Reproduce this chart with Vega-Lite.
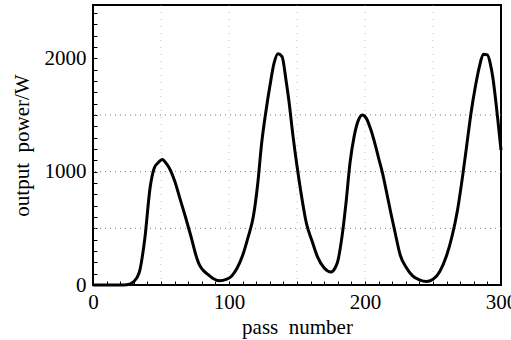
{
  "$schema": "https://vega.github.io/schema/vega-lite/v6.json",
  "width": 408,
  "height": 280,
  "autosize": {"type": "none"},
  "padding": {"left": 93, "top": 5, "right": 10, "bottom": 55},
  "background": "white",
  "config": {
    "view": {"stroke": "black", "strokeWidth": 2},
    "axis": {
      "labelFont": "Liberation Serif",
      "titleFont": "Liberation Serif",
      "labelFontSize": 21,
      "titleFontSize": 21,
      "titleFontWeight": "normal",
      "labelColor": "black",
      "titleColor": "black",
      "tickColor": "black",
      "tickWidth": 1,
      "tickSize": -4,
      "grid": false,
      "domain": false,
      "labelOverlap": false,
      "labelFlush": false
    },
    "axisX": {"labelPadding": 10, "titlePadding": 4},
    "axisY": {"labelPadding": 11, "titlePadding": 12}
  },
  "datasets": {
    "curve": [
      {"pass": 0, "power": 0}, {"pass": 20, "power": 0}, {"pass": 25, "power": 2}, {"pass": 30, "power": 30},
      {"pass": 34, "power": 110}, {"pass": 38, "power": 400}, {"pass": 42, "power": 860}, {"pass": 45, "power": 1030},
      {"pass": 48, "power": 1080}, {"pass": 51, "power": 1108}, {"pass": 54, "power": 1070}, {"pass": 57, "power": 1010},
      {"pass": 60, "power": 920}, {"pass": 64, "power": 760}, {"pass": 68, "power": 600}, {"pass": 72, "power": 430},
      {"pass": 76, "power": 250}, {"pass": 78, "power": 185}, {"pass": 80, "power": 145}, {"pass": 82, "power": 118}, {"pass": 85, "power": 88}, {"pass": 88, "power": 60},
      {"pass": 93, "power": 38}, {"pass": 98, "power": 50}, {"pass": 102, "power": 80}, {"pass": 106, "power": 150},
      {"pass": 110, "power": 260}, {"pass": 114, "power": 420}, {"pass": 118, "power": 610}, {"pass": 121, "power": 880},
      {"pass": 124, "power": 1250}, {"pass": 127, "power": 1520}, {"pass": 130, "power": 1750}, {"pass": 133, "power": 1950},
      {"pass": 136, "power": 2040}, {"pass": 139, "power": 2015}, {"pass": 142, "power": 1800}, {"pass": 144, "power": 1630},
      {"pass": 147, "power": 1320}, {"pass": 150, "power": 1050}, {"pass": 153, "power": 810}, {"pass": 157, "power": 540},
      {"pass": 161, "power": 390}, {"pass": 165, "power": 250}, {"pass": 170, "power": 150}, {"pass": 175, "power": 115},
      {"pass": 178, "power": 150}, {"pass": 180, "power": 210}, {"pass": 183, "power": 420}, {"pass": 186, "power": 720},
      {"pass": 189, "power": 1080}, {"pass": 192, "power": 1310}, {"pass": 195, "power": 1450}, {"pass": 198, "power": 1500},
      {"pass": 201, "power": 1470}, {"pass": 204, "power": 1380}, {"pass": 207, "power": 1260}, {"pass": 210, "power": 1120},
      {"pass": 213, "power": 980}, {"pass": 216, "power": 810}, {"pass": 219, "power": 635}, {"pass": 222, "power": 470},
      {"pass": 226, "power": 260}, {"pass": 230, "power": 160}, {"pass": 235, "power": 80}, {"pass": 240, "power": 45},
      {"pass": 245, "power": 30}, {"pass": 250, "power": 50}, {"pass": 255, "power": 120}, {"pass": 260, "power": 260},
      {"pass": 264, "power": 430}, {"pass": 268, "power": 660}, {"pass": 272, "power": 980}, {"pass": 275, "power": 1250},
      {"pass": 278, "power": 1520}, {"pass": 281, "power": 1740}, {"pass": 284, "power": 1920}, {"pass": 287, "power": 2035},
      {"pass": 290, "power": 2030}, {"pass": 292, "power": 1960}, {"pass": 294, "power": 1830}, {"pass": 296, "power": 1640},
      {"pass": 298, "power": 1420}, {"pass": 300, "power": 1190}
    ],
    "hgrid": [{"power": 500}, {"power": 1000}, {"power": 1500}],
    "vgrid": [{"pass": 50}, {"pass": 100}, {"pass": 150}, {"pass": 200}, {"pass": 250}]
  },
  "layer": [
    {
      "data": {"name": "hgrid"},
      "mark": {"type": "rule", "color": "#777777", "strokeDash": [1, 4], "strokeWidth": 1},
      "encoding": {
        "y": {
          "field": "power", "type": "quantitative",
          "scale": {"domain": [0, 2470], "nice": false},
          "axis": {
            "title": "output\u00a0\u00a0power/W",
            "format": "d",
            "values": [0,100,200,300,400,500,600,700,800,900,1000,1100,1200,1300,1400,1500,1600,1700,1800,1900,2000,2100,2200,2300,2400],
            "labelExpr": "datum.value % 1000 == 0 ? datum.label : ''"
          }
        }
      }
    },
    {
      "data": {"name": "vgrid"},
      "mark": {"type": "rule", "color": "#999999", "strokeDash": [1, 6], "strokeWidth": 1, "opacity": 0.6},
      "encoding": {
        "x": {
          "field": "pass", "type": "quantitative",
          "scale": {"domain": [0, 300], "nice": false},
          "axis": {
            "title": "pass\u00a0\u00a0number",
            "values": [0,10,20,30,40,50,60,70,80,90,100,110,120,130,140,150,160,170,180,190,200,210,220,230,240,250,260,270,280,290,300],
            "labelExpr": "datum.value % 100 == 0 ? datum.label : ''"
          }
        }
      }
    },
    {
      "data": {"name": "curve"},
      "mark": {"type": "line", "color": "black", "strokeWidth": 3, "interpolate": "monotone"},
      "encoding": {
        "x": {
          "field": "pass", "type": "quantitative",
          "scale": {"domain": [0, 300], "nice": false},
          "axis": {
            "title": "pass\u00a0\u00a0number",
            "values": [0,10,20,30,40,50,60,70,80,90,100,110,120,130,140,150,160,170,180,190,200,210,220,230,240,250,260,270,280,290,300],
            "labelExpr": "datum.value % 100 == 0 ? datum.label : ''"
          }
        },
        "y": {
          "field": "power", "type": "quantitative",
          "scale": {"domain": [0, 2470], "nice": false},
          "axis": {
            "title": "output\u00a0\u00a0power/W",
            "format": "d",
            "values": [0,100,200,300,400,500,600,700,800,900,1000,1100,1200,1300,1400,1500,1600,1700,1800,1900,2000,2100,2200,2300,2400],
            "labelExpr": "datum.value % 1000 == 0 ? datum.label : ''"
          }
        }
      }
    }
  ]
}
